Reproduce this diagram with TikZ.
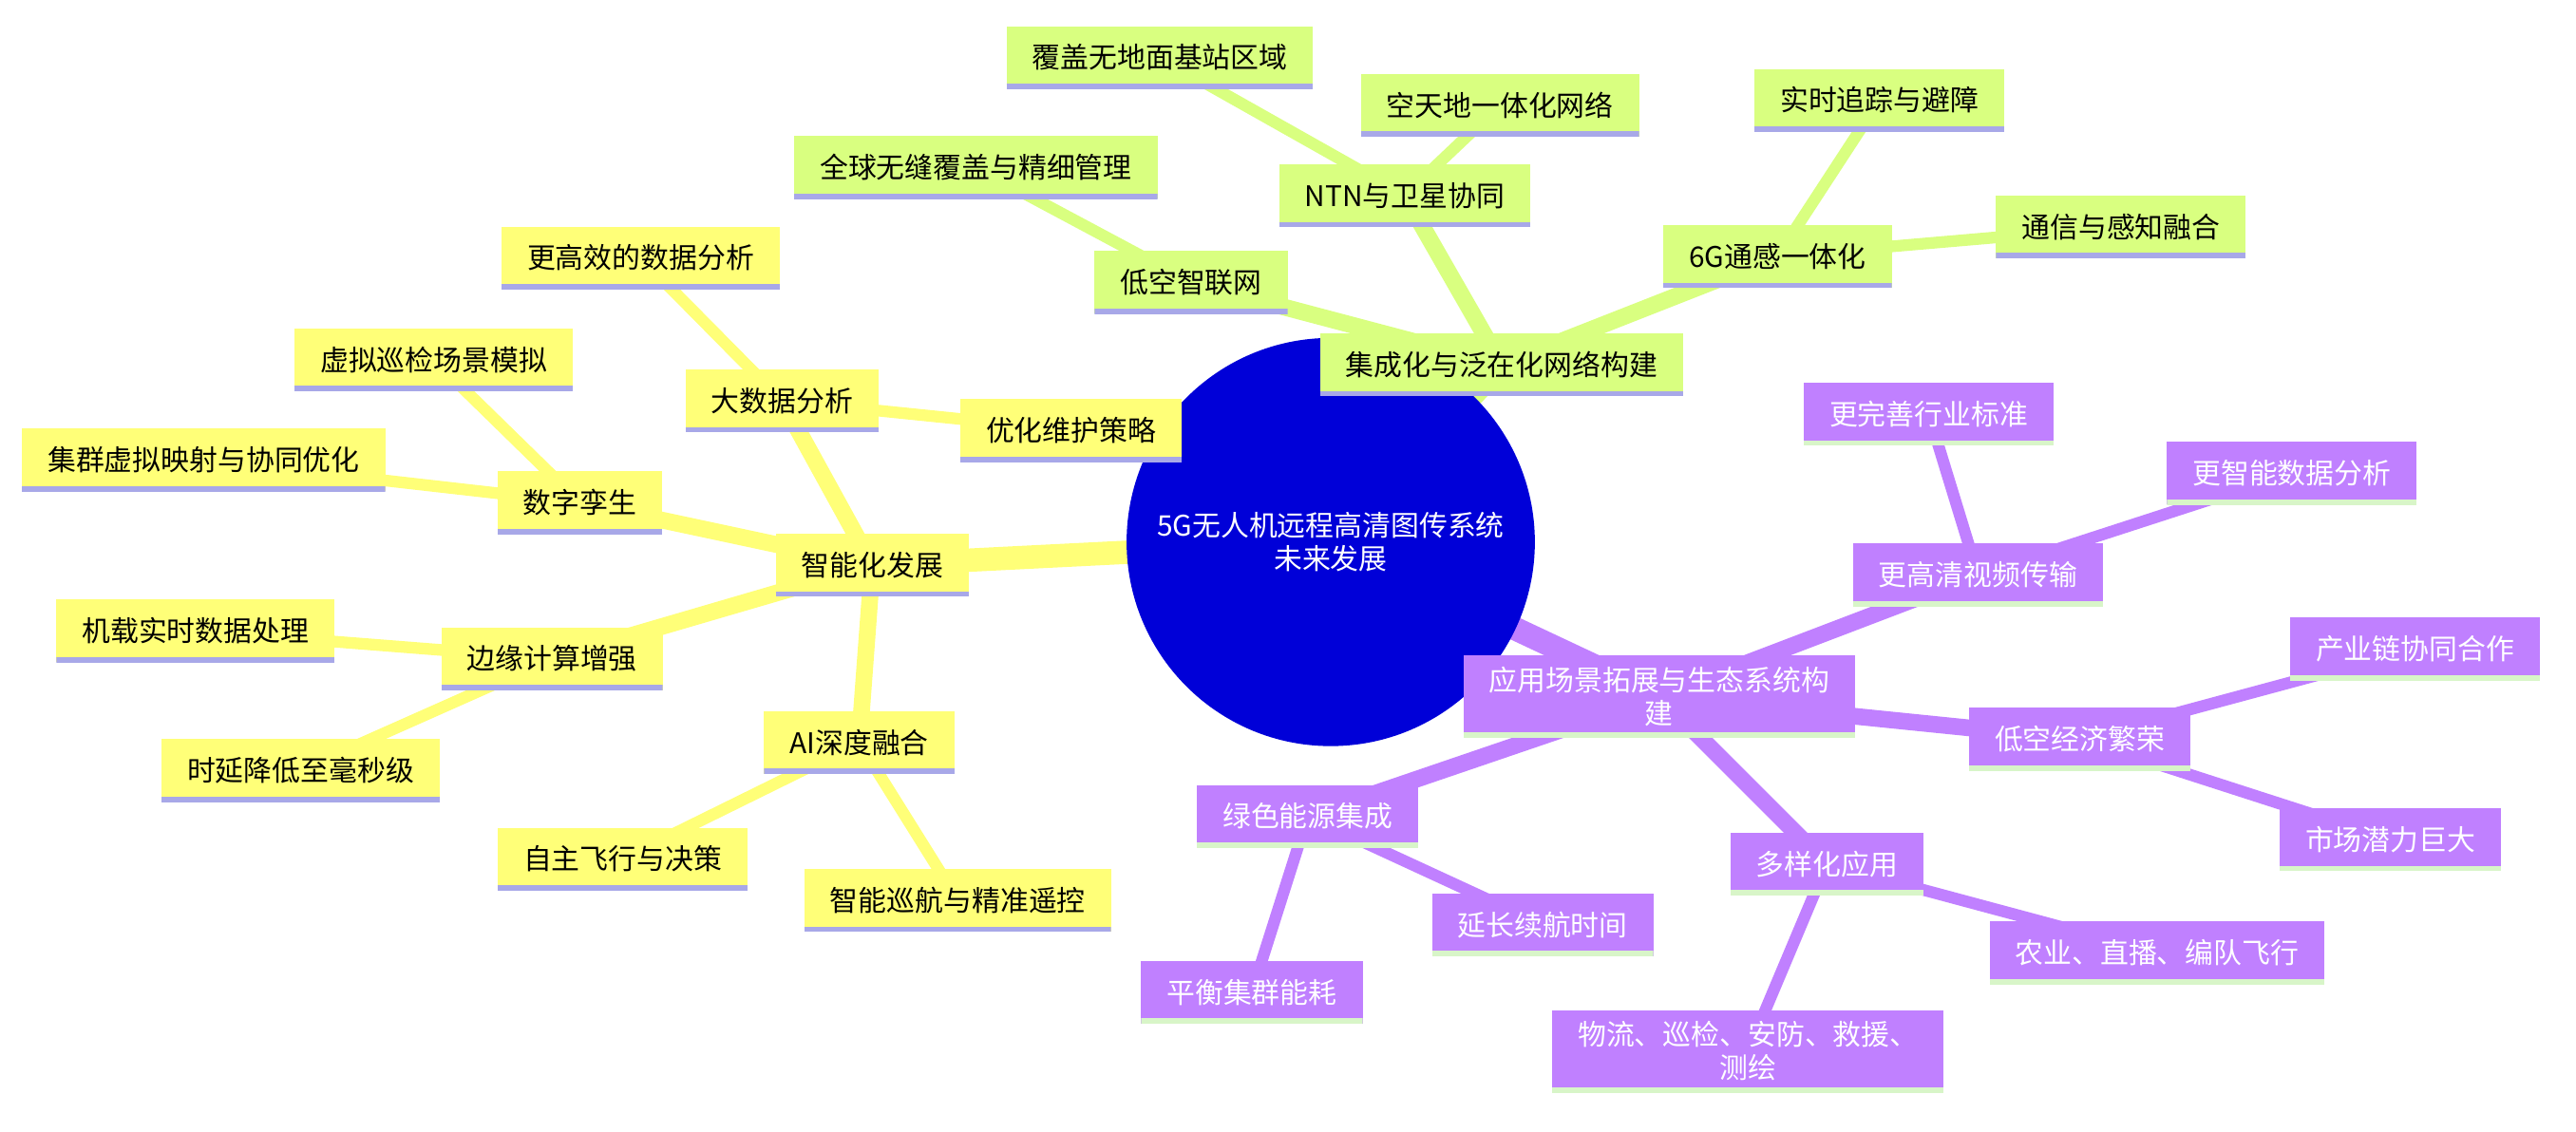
\documentclass[tikz,border=0pt]{standalone}
\usepackage{fontspec}
\setmainfont{Noto Sans CJK SC}
\usetikzlibrary{backgrounds}
\definecolor{yel}{HTML}{FFFF78}
\definecolor{grn}{HTML}{D9FF80}
\definecolor{pur}{HTML}{C080FF}
\definecolor{lav}{HTML}{A8A8E8}
\definecolor{lgr}{HTML}{D8F5C8}
\definecolor{hub}{HTML}{0000D8}
\tikzset{
  box/.style={rectangle, inner xsep=0.27cm, minimum height=0.66cm, align=center,
    font=\fontsize{8.5}{10}\selectfont},
  ybox/.style={box, fill=yel, path picture={\draw[lav, line width=3pt]
    (path picture bounding box.south west) -- (path picture bounding box.south east);}},
  gbox/.style={box, fill=grn, path picture={\draw[lav, line width=3pt]
    (path picture bounding box.south west) -- (path picture bounding box.south east);}},
  pbox/.style={box, fill=pur, text=white, path picture={\draw[lgr, line width=3pt]
    (path picture bounding box.south west) -- (path picture bounding box.south east);}},
  lone/.style={line width=7pt},
  ltwo/.style={line width=5pt},
  lthree/.style={line width=3.5pt}
}
\begin{document}
\begin{tikzpicture}[x=0.0173cm, y=-0.0173cm]
  \useasboundingbox (0,0) rectangle (1568,689);
  % hub
  \node [circle, fill=hub, text=white, minimum size=4.3cm, align=center,
         font=\fontsize{8.5}{10}\selectfont] (hub) at (810,330) {5G无人机远程高清图传系统\\未来发展};
  % yellow branch
  \node [ybox] (smart) at (531,344) {智能化发展};
  \node [ybox] (bigdata) at (476,244) {大数据分析};
  \node [ybox] (efficient) at (390,157) {更高效的数据分析};
  \node [ybox] (maint) at (652,262) {优化维护策略};
  \node [ybox] (twin) at (353,306) {数字孪生};
  \node [ybox] (virtual) at (264,219) {虚拟巡检场景模拟};
  \node [ybox] (cluster) at (124,280) {集群虚拟映射与协同优化};
  \node [ybox] (edge) at (336,401) {边缘计算增强};
  \node [ybox] (onboard) at (119,384) {机载实时数据处理};
  \node [ybox] (latency) at (183,469) {时延降低至毫秒级};
  \node [ybox] (ai) at (523,452) {AI深度融合};
  \node [ybox] (auto) at (379,523) {自主飞行与决策};
  \node [ybox] (cruise) at (583,548) {智能巡航与精准遥控};
  % green branch
  \node [gbox] (net) at (914,222) {集成化与泛在化网络构建};
  \node [gbox] (lowalt) at (725,172) {低空智联网};
  \node [gbox] (global) at (594,102) {全球无缝覆盖与精细管理};
  \node [gbox] (ntn) at (855,119) {NTN与卫星协同};
  \node [gbox] (nobase) at (706,35) {覆盖无地面基站区域};
  \node [gbox] (space) at (913,64) {空天地一体化网络};
  \node [gbox] (sixg) at (1082,156) {6G通感一体化};
  \node [gbox] (track) at (1144,61) {实时追踪与避障};
  \node [gbox] (sense) at (1291,138) {通信与感知融合};
  % purple branch
  \node [pbox] (app) at (1010,424) {应用场景拓展与生态系统构\\建};
  \node [pbox] (video) at (1204,350) {更高清视频传输};
  \node [pbox] (std) at (1174,252) {更完善行业标准};
  \node [pbox] (smartdata) at (1395,288) {更智能数据分析};
  \node [pbox] (econ) at (1266,450) {低空经济繁荣};
  \node [pbox] (chain) at (1470,395) {产业链协同合作};
  \node [pbox] (market) at (1455,511) {市场潜力巨大};
  \node [pbox] (multi) at (1112,526) {多样化应用};
  \node [pbox] (farm) at (1313,580) {农业、直播、编队飞行};
  \node [pbox] (logi) at (1064,640) {物流、巡检、安防、救援、\\测绘};
  \node [pbox] (green) at (796,497) {绿色能源集成};
  \node [pbox] (endur) at (939,563) {延长续航时间};
  \node [pbox] (balance) at (762,604) {平衡集群能耗};
  % connectors
  \begin{scope}[on background layer]
    \draw [yel, lone] (hub.center) -- (smart.center);
    \draw [grn, lone] (hub.center) -- (net.center);
    \draw [pur, lone] (hub.center) -- (app.center);
    \foreach \a in {bigdata,twin,edge,ai} \draw [yel, ltwo] (smart.center) -- (\a.center);
    \foreach \a in {lowalt,ntn,sixg} \draw [grn, ltwo] (net.center) -- (\a.center);
    \foreach \a in {video,econ,multi,green} \draw [pur, ltwo] (app.center) -- (\a.center);
    \draw [yel, lthree] (bigdata.center) -- (efficient.center);
    \draw [yel, lthree] (bigdata.center) -- (maint.center);
    \draw [yel, lthree] (twin.center) -- (virtual.center);
    \draw [yel, lthree] (twin.center) -- (cluster.center);
    \draw [yel, lthree] (edge.center) -- (onboard.center);
    \draw [yel, lthree] (edge.center) -- (latency.center);
    \draw [yel, lthree] (ai.center) -- (auto.center);
    \draw [yel, lthree] (ai.center) -- (cruise.center);
    \draw [grn, lthree] (lowalt.center) -- (global.center);
    \draw [grn, lthree] (ntn.center) -- (nobase.center);
    \draw [grn, lthree] (ntn.center) -- (space.center);
    \draw [grn, lthree] (sixg.center) -- (track.center);
    \draw [grn, lthree] (sixg.center) -- (sense.center);
    \draw [pur, lthree] (video.center) -- (std.center);
    \draw [pur, lthree] (video.center) -- (smartdata.center);
    \draw [pur, lthree] (econ.center) -- (chain.center);
    \draw [pur, lthree] (econ.center) -- (market.center);
    \draw [pur, lthree] (multi.center) -- (farm.center);
    \draw [pur, lthree] (multi.center) -- (logi.center);
    \draw [pur, lthree] (green.center) -- (endur.center);
    \draw [pur, lthree] (green.center) -- (balance.center);
  \end{scope}
\end{tikzpicture}
\end{document}
